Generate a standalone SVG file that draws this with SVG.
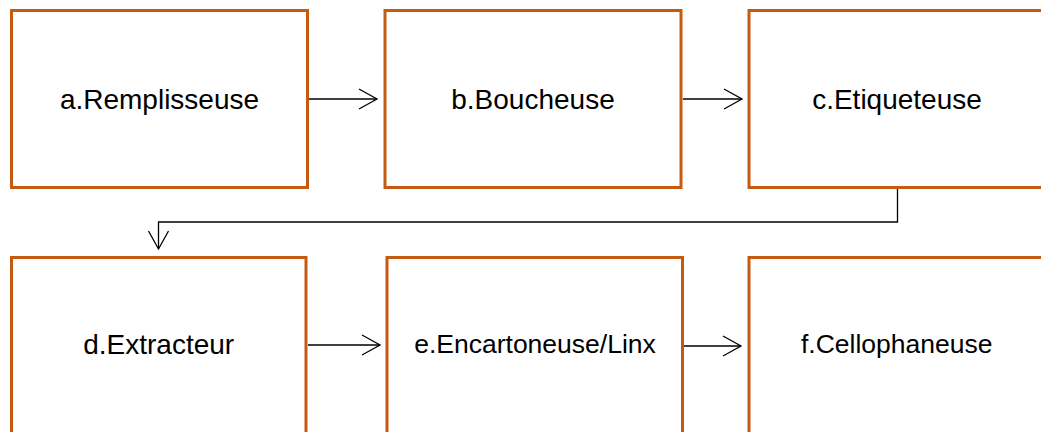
<svg xmlns="http://www.w3.org/2000/svg" width="1041" height="432" viewBox="0 0 1041 432">
  <style>
    .box { fill: #ffffff; stroke: #C55A11; stroke-width: 3; }
    .lbl { font-family: "Liberation Sans", Arial, sans-serif; fill: #000000; text-anchor: middle; }
    .big { font-size: 28px; }
    .mid { font-size: 26.5px; }
    .flow { fill: none; stroke: #000000; stroke-width: 1.3; }
  </style>
  <defs>
    <marker id="open" markerUnits="userSpaceOnUse" markerWidth="24" markerHeight="24" viewBox="-20 -12 24 24" refX="0" refY="0" orient="auto" overflow="visible">
      <path d="M-18,-10 L0,0 L-18,10" fill="none" stroke="#000000" stroke-width="1.3"/>
    </marker>
  </defs>
  <rect width="1041" height="432" fill="#ffffff"/>

  <g id="connectors">
    <line class="flow" x1="309" y1="99" x2="377" y2="99" marker-end="url(#open)"/>
    <line class="flow" x1="683" y1="99" x2="742" y2="99" marker-end="url(#open)"/>
    <polyline class="flow" points="897.5,189 897.5,222 158.5,222 158.5,249" marker-end="url(#open)"/>
    <line class="flow" x1="308" y1="345" x2="380" y2="345" marker-end="url(#open)"/>
    <line class="flow" x1="684" y1="346" x2="741" y2="346" marker-end="url(#open)"/>
  </g>

  <g id="node-a">
    <rect class="box" x="11.5" y="10.5" width="296" height="177"/>
    <text class="lbl big" x="159.5" y="109">a.Remplisseuse</text>
  </g>
  <g id="node-b">
    <rect class="box" x="385" y="10.5" width="296" height="177"/>
    <text class="lbl big" x="533" y="109">b.Boucheuse</text>
  </g>
  <g id="node-c">
    <rect class="box" x="749" y="10.5" width="296" height="177"/>
    <text class="lbl big" x="897" y="109">c.Etiqueteuse</text>
  </g>
  <g id="node-d">
    <rect class="box" x="11.5" y="257.5" width="294.5" height="190"/>
    <text class="lbl big" x="158.7" y="354">d.Extracteur</text>
  </g>
  <g id="node-e">
    <rect class="box" x="387" y="257.5" width="295.5" height="190"/>
    <text class="lbl mid" x="535" y="353">e.Encartoneuse/Linx</text>
  </g>
  <g id="node-f">
    <rect class="box" x="749" y="257.5" width="296" height="190"/>
    <text class="lbl mid" x="896.7" y="353">f.Cellophaneuse</text>
  </g>
</svg>
